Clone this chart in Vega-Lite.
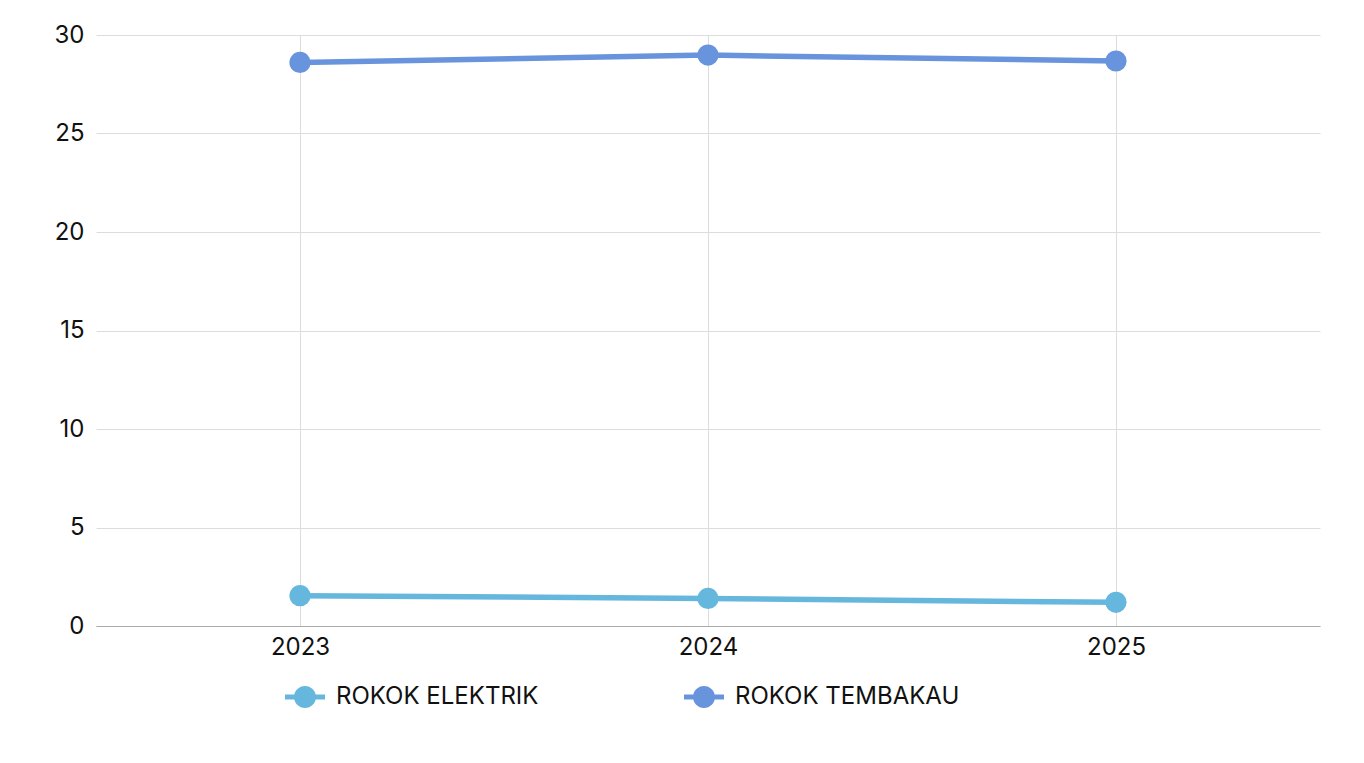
{
  "$schema": "https://vega.github.io/schema/vega-lite/v6.json",
  "width": 1224,
  "height": 591,
  "padding": {"left": 96, "top": 35, "right": 44, "bottom": 137},
  "autosize": {"type": "none"},
  "background": "white",
  "config": {
    "font": "Inter",
    "view": {"stroke": null},
    "axis": {"labelFont": "Inter", "labelColor": "#111", "labelFontSize": 24, "gridColor": "#dcdcdc", "gridWidth": 1, "ticks": false, "title": null}
  },
  "data": {
    "values": [
      {"year": "2023", "series": "ROKOK ELEKTRIK", "value": 1.54},
      {"year": "2024", "series": "ROKOK ELEKTRIK", "value": 1.40},
      {"year": "2025", "series": "ROKOK ELEKTRIK", "value": 1.20},
      {"year": "2023", "series": "ROKOK TEMBAKAU", "value": 28.61},
      {"year": "2024", "series": "ROKOK TEMBAKAU", "value": 28.98},
      {"year": "2025", "series": "ROKOK TEMBAKAU", "value": 28.68}
    ]
  },
  "encoding": {
    "x": {"field": "year", "type": "ordinal", "scale": {"type": "point", "padding": 0.5},
      "axis": {"labelAngle": 0, "grid": true, "domain": true, "domainColor": "#aaaaaa", "labelPadding": 9}},
    "y": {"field": "value", "type": "quantitative", "scale": {"domain": [0, 30], "nice": false},
      "axis": {"values": [0, 5, 10, 15, 20, 25, 30], "domain": false, "labelPadding": 12, "grid": true}},
    "color": {"field": "series", "type": "nominal",
      "scale": {"domain": ["ROKOK ELEKTRIK", "ROKOK TEMBAKAU"], "range": ["#66b7dd", "#6894dd"]},
      "legend": {"orient": "none", "legendX": 189, "legendY": 642, "direction": "horizontal", "title": null,
        "padding": 0, "gridAlign": "all", "columnPadding": 123, "labelFontSize": 24, "labelFont": "Inter", "labelColor": "#111",
        "labelLimit": 500, "labelOffset": 11, "symbolSize": 1600, "symbolStrokeWidth": 0, "symbolOpacity": 1,
        "symbolType": "M -1 -0.13 L 1 -0.13 L 1 0.13 L -1 0.13 Z M 0.55 0 A 0.55 0.55 0 1 1 -0.55 0 A 0.55 0.55 0 1 1 0.55 0 Z"}}
  },
  "layer": [
    {"mark": {"type": "line", "strokeWidth": 5.5}},
    {"mark": {"type": "point", "filled": true, "size": 450, "opacity": 1}}
  ]
}
